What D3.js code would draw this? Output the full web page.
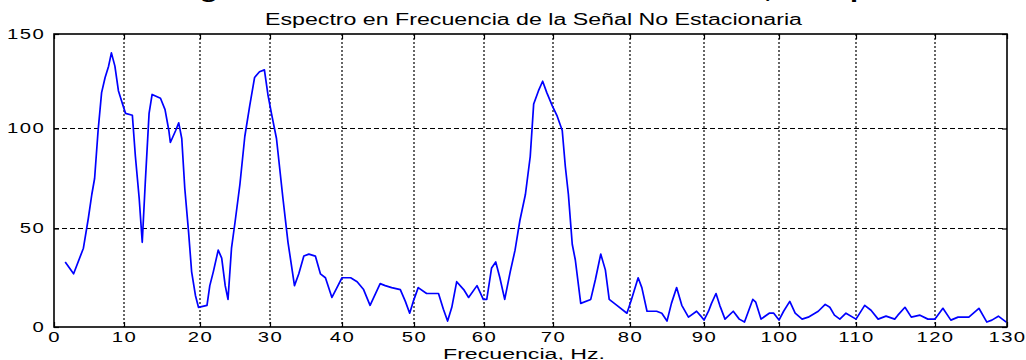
<!DOCTYPE html>
<html><head><meta charset="utf-8">
<script src="https://cdn.jsdelivr.net/npm/d3@7"></script>
<style>
body{margin:0;background:#fff}
svg{display:block}
text{font-family:"Liberation Sans",Arial,sans-serif;fill:#000}
</style>
</head><body>
<svg id="c" width="1026" height="360"></svg>
<script>
const freq=[1.6,2.8,4.2,4.9,5.4,5.8,6.3,6.8,7.3,7.8,8.2,8.7,9.2,9.7,10.2,11.1,11.5,12.0,12.4,12.8,13.3,13.7,14.8,15.4,15.9,16.1,16.8,17.2,17.6,18.0,18.5,18.9,19.4,19.8,21.0,21.4,21.9,22.6,23.1,23.6,24.0,24.5,25.0,25.7,26.4,27.1,27.8,28.5,29.2,29.7,30.2,30.9,31.8,32.5,33.4,34.0,34.7,35.4,36.3,37.0,37.7,38.6,39.3,40.0,41.2,42.1,43.0,43.9,45.3,46.0,46.9,48.1,48.8,49.4,49.9,50.6,51.8,53.5,54.2,54.8,55.4,56.1,57.1,57.8,59.0,59.9,60.4,61.1,61.7,62.3,63.0,63.8,64.5,65.2,66.0,66.7,67.2,67.9,68.5,69.1,69.9,70.5,71.2,71.6,72.0,72.5,72.9,73.6,74.9,75.5,76.2,76.8,77.3,78.3,79.6,80.2,81.1,81.6,82.3,83.6,84.3,85.0,85.6,86.3,87.0,87.9,89.0,89.7,90.0,90.6,91.0,91.6,92.1,92.8,93.9,94.7,95.4,96.5,96.9,97.6,98.7,99.3,100.0,100.6,101.4,102.1,103.0,103.8,105.1,106.0,106.6,107.2,107.9,108.7,110.0,111.1,111.9,112.8,113.8,114.9,115.3,116.2,117.0,118.1,119.1,120.0,121.1,122.2,123.2,124.7,126.1,127.2,127.9,128.8,129.9];
const amp=[33,27,40,55,67,75,99,119,127,133,140,133,120,114,108,107,86,65,43,73,108,118,116,110,99,93,99,103,95,70,48,28,16,10,11,21,28,39,35,21,14,40,53,72,96,112,127,130,131,118,108,95,65,43,21,27,36,37,36,27,25,15,20,25,25,23,19,11,22,21,20,19,13,7,13,20,17,17,9,3,10,23,19,15,21,14,14,30,33,25,14,28,39,54,67,86,113,120,125,119,112,107,99,81,67,42,34,12,14,24,37,29,14,11,7,14,25,20,8,8,7,3,12,20,11,5,8,5,3.5,8,12,17,11,4,8,4,2.5,14,12.6,4,7,7,3.5,8,13,7,4,5,8,11.5,10,6,4,7,4,11,8.5,4,5.5,4,6,10,5,6,4,4,9.5,3.5,5,5,9.5,2.5,3.5,5.5,2.5];
const xTickValues=[0,10,20,30,40,50,60,70,80,90,100,110,120,130];
const yTickValues=[0,50,100,150];
const titleText="Espectro en Frecuencia de la Señal No Estacionaria";
const xLabelText="Frecuencia, Hz.";

const svg=d3.select("#c");
const L=54,R=1007,T=34,B=327;
const x=d3.scaleLinear().domain(xTickValues).range([54,124,200,270,342,414,484,553,630,704,779,856,935,1007]);
const y=d3.scaleLinear().domain(yTickValues).range([327,228.5,128.5,34]);

// clipped caption fragments from above
const cap=svg.append("g").attr("font-weight","bold").attr("font-size",20);
[["g",200],[",",764],["p",850]].forEach(([t,px])=>{
  cap.append("text").attr("transform",`translate(${px},0) scale(1.45,1)`).attr("y",-2).text(t);
});

// grid
svg.append("g").selectAll("line").data(xTickValues.filter(v=>v>0&&v<130)).join("line")
  .attr("x1",d=>x(d)).attr("x2",d=>x(d)).attr("y1",T).attr("y2",B)
  .attr("stroke","#000").attr("stroke-width",1.2).attr("stroke-dasharray","2,2");
svg.append("g").selectAll("line").data(yTickValues.filter(v=>v>0&&v<150)).join("line")
  .attr("x1",L).attr("x2",R).attr("y1",d=>y(d)).attr("y2",d=>y(d))
  .attr("stroke","#000").attr("stroke-width",1.2).attr("stroke-dasharray","5,3");

// data line
svg.append("clipPath").attr("id","pc").append("rect").attr("x",L).attr("y",T).attr("width",R-L).attr("height",B-T);
const pts=freq.map((f,i)=>[f,amp[i]]);
svg.append("path").datum(pts).attr("clip-path","url(#pc)")
  .attr("fill","none").attr("stroke","#0000ff").attr("stroke-width",1.7).attr("stroke-linejoin","round")
  .attr("d",d3.line().x(d=>x(d[0])).y(d=>y(d[1])));

// axes
const ax=svg.append("g").attr("transform",`translate(0,${B})`)
  .call(d3.axisBottom(x).tickValues(xTickValues).tickSizeInner(-5).tickSizeOuter(0).tickPadding(5).tickFormat(d3.format("d")));
const ay=svg.append("g").attr("transform",`translate(${L},0)`)
  .call(d3.axisLeft(y).tickValues(yTickValues).tickSizeInner(-5).tickSizeOuter(0).tickPadding(6).tickFormat(d3.format("d")));
svg.append("g").attr("transform",`translate(0,${T})`)
  .call(d3.axisTop(x).tickValues(xTickValues).tickSizeInner(-5).tickSizeOuter(0).tickFormat(""));
svg.append("g").attr("transform",`translate(${R},0)`)
  .call(d3.axisRight(y).tickValues(yTickValues).tickSizeInner(-5).tickSizeOuter(0).tickFormat(""));
svg.selectAll(".domain").remove();
svg.selectAll(".tick line").attr("stroke","#000").attr("stroke-width",1.2);
[ax,ay].forEach(g=>g.selectAll("text")
  .attr("font-size",14).attr("fill","#000").attr("letter-spacing","1px")
  .attr("font-family","'Liberation Sans',Arial,sans-serif")
  .attr("transform","scale(1.45,1)"));

// frame
svg.append("rect").attr("x",L).attr("y",T).attr("width",R-L).attr("height",B-T)
  .attr("fill","none").attr("stroke","#000").attr("stroke-width",1.6);

// title and x label
svg.append("text").attr("x",533.5).attr("y",25).attr("text-anchor","middle")
  .attr("font-size",16).attr("textLength",537).attr("lengthAdjust","spacingAndGlyphs").text(titleText);
svg.append("text").attr("x",524).attr("y",358.5).attr("text-anchor","middle")
  .attr("font-size",14).attr("textLength",162).attr("lengthAdjust","spacingAndGlyphs").text(xLabelText);
</script>
</body></html>
